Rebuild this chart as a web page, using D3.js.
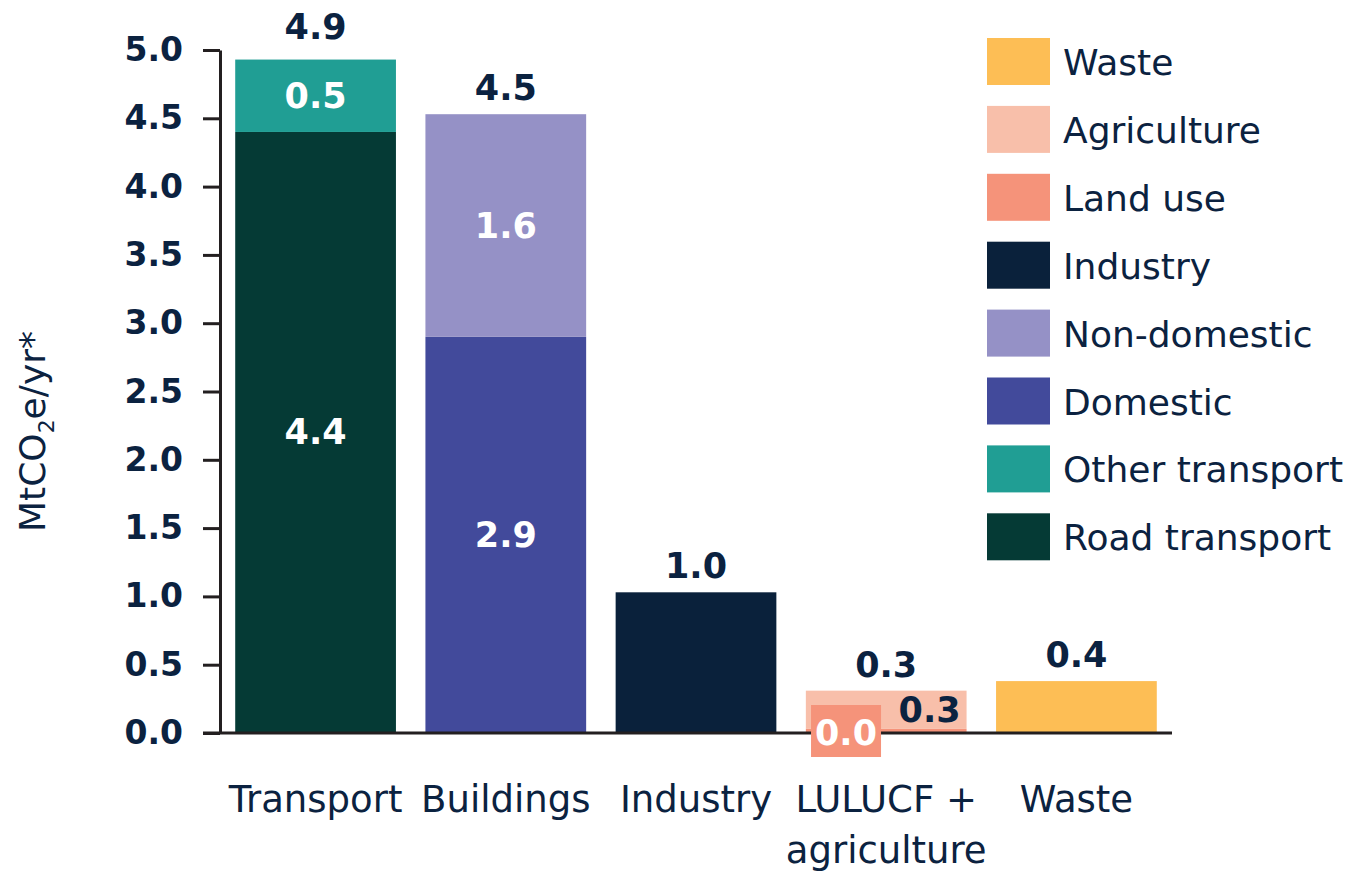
<!DOCTYPE html>
<html>
<head>
<meta charset="utf-8">
<script src="https://cdn.jsdelivr.net/npm/d3@7"></script>
<style>
  body { margin: 0; background: #fff; }
  text { font-family: "DejaVu Sans", sans-serif; fill: #0b2240; }
</style>
</head>
<body>
<div class="div_d3"></div>
<script>
// categories on the x axis
const categories = ["Transport", "Buildings", "Industry", "LULUCF + agriculture", "Waste"];
const catLines = [["Transport"], ["Buildings"], ["Industry"], ["LULUCF +", "agriculture"], ["Waste"]];

// series, bottom to top of the stack
const seriesNames = ["Road transport", "Other transport", "Domestic", "Non-domestic", "Industry", "Land use", "Agriculture", "Waste"];
const seriesColors = ["#053a35", "#209e94", "#424a9b", "#9591c6", "#0a213b", "#f5937a", "#f8bfaa", "#fdbe55"];

// values per series, one per category (MtCO2e/yr)
const roadTransport  = [4.40, 0, 0, 0, 0];
const otherTransport = [0.53, 0, 0, 0, 0];
const domestic       = [0, 2.90, 0, 0, 0];
const nonDomestic    = [0, 1.63, 0, 0, 0];
const industry       = [0, 0, 1.03, 0, 0];
const landUse        = [0, 0, 0, 0.03, 0];
const agriculture    = [0, 0, 0, 0.28, 0];
const waste          = [0, 0, 0, 0, 0.38];

const yTicks = [0, 0.5, 1, 1.5, 2, 2.5, 3, 3.5, 4, 4.5, 5];

const seriesValues = [roadTransport, otherTransport, domestic, nonDomestic, industry, landUse, agriculture, waste];

const W = 1364, H = 871;
const margin = {top: 50, right: 192, bottom: 138, left: 220};
const fmt = d3.format(".1f");

const svg = d3.select(".div_d3")
  .append("svg")
    .attr("width", W)
    .attr("height", H);

// table for d3.stack
const table = categories.map((c, i) => {
  const row = {cat: c};
  seriesNames.forEach((s, j) => row[s] = seriesValues[j][i]);
  return row;
});
const stacked = d3.stack().keys(seriesNames)(table);

const x = d3.scaleBand()
  .domain(categories)
  .range([margin.left, W - margin.right])
  .paddingInner(0.155)
  .paddingOuter(0.08);

const y = d3.scaleLinear()
  .domain([0, 5])
  .range([H - margin.bottom, margin.top]);

const color = d3.scaleOrdinal().domain(seriesNames).range(seriesColors);

// bars
stacked.forEach(layer => {
  svg.append("g")
    .selectAll("rect")
    .data(layer.filter(d => d[1] - d[0] > 0))
    .enter()
    .append("rect")
      .attr("x", d => x(d.data.cat))
      .attr("y", d => y(d[1]))
      .attr("width", x.bandwidth())
      .attr("height", d => y(d[0]) - y(d[1]))
      .attr("fill", color(layer.key));
});

// y axis
const yAxis = svg.append("g")
  .attr("transform", `translate(${margin.left},0)`)
  .call(d3.axisLeft(y).tickValues(yTicks).tickFormat(fmt).tickSize(17).tickSizeOuter(0).tickPadding(20));
yAxis.select(".domain").attr("stroke", "#231f20").attr("stroke-width", 3);
yAxis.selectAll(".tick line").attr("stroke", "#231f20").attr("stroke-width", 3);
yAxis.selectAll(".tick text")
  .attr("font-size", 33)
  .attr("font-weight", "bold")
  .attr("fill", "#0b2240")
  .style("font-family", "DejaVu Sans, sans-serif");

// baseline
svg.append("line")
  .attr("x1", margin.left - 17)
  .attr("x2", W - margin.right)
  .attr("y1", y(0))
  .attr("y2", y(0))
  .attr("stroke", "#231f20")
  .attr("stroke-width", 3);

// y axis title
const yt = svg.append("text")
  .attr("transform", `translate(45,${(y(0) + y(5)) / 2 + 40}) rotate(-90)`)
  .attr("text-anchor", "middle")
  .attr("font-size", 36);
yt.append("tspan").text("MtCO");
yt.append("tspan").attr("font-size", 22).attr("dy", 9).text("2");
yt.append("tspan").attr("dy", -9).text("e/yr*");

// category labels
categories.forEach((c, i) => {
  const t = svg.append("text")
    .attr("x", x(c) + x.bandwidth() / 2)
    .attr("y", 812)
    .attr("text-anchor", "middle")
    .attr("font-size", 37);
  catLines[i].forEach((ln, k) => {
    t.append("tspan")
      .attr("x", x(c) + x.bandwidth() / 2)
      .attr("dy", k === 0 ? 0 : 51)
      .text(ln);
  });
});

// totals above bars
const totals = table.map(row => d3.sum(seriesNames, s => row[s]));
const maxTotal = d3.max(totals);
table.forEach((row, i) => {
  const total = totals[i];
  svg.append("text")
    .attr("x", x(row.cat) + x.bandwidth() / 2)
    .attr("y", y(total) - (total === maxTotal ? 21 : 14))
    .attr("text-anchor", "middle")
    .attr("font-size", 35)
    .attr("font-weight", "600")
    .text(fmt(total));
});

// labels inside stacked segments (only where a bar has more than one part)
stacked.forEach(layer => {
  layer.forEach(d => {
    const row = d.data;
    const parts = seriesNames.filter(s => row[s] > 0).length;
    const v = d[1] - d[0];
    if (parts < 2 || v <= 0) return;
    const cx = x(row.cat) + x.bandwidth() / 2;
    if (row.cat === "LULUCF + agriculture") {
      if (layer.key === "Land use") {
        const bx = x(row.cat) + x.bandwidth() * 0.25;
        svg.append("rect")
          .attr("x", bx - 35)
          .attr("y", y(0) - 28)
          .attr("width", 70)
          .attr("height", 52)
          .attr("fill", color(layer.key));
        svg.append("text")
          .attr("x", bx)
          .attr("y", y(0) + 12)
          .attr("text-anchor", "middle")
          .attr("font-size", 35)
          .attr("font-weight", "600")
          .style("fill", "#fff")
          .text(fmt(v));
      } else {
        svg.append("text")
          .attr("x", x(row.cat) + x.bandwidth() * 0.77)
          .attr("y", y((d[0] + d[1]) / 2) + 12)
          .attr("text-anchor", "middle")
          .attr("font-size", 35)
          .attr("font-weight", "600")
          .text(fmt(v));
      }
      return;
    }
    svg.append("text")
      .attr("x", cx)
      .attr("y", y((d[0] + d[1]) / 2) + 12)
      .attr("text-anchor", "middle")
      .attr("font-size", 35)
      .attr("font-weight", "600")
      .style("fill", "#fff")
      .text(fmt(v));
  });
});

// legend, top to bottom is reversed stack order
const legendItems = seriesNames.slice().reverse();
const legend = svg.append("g").attr("transform", "translate(987,38)");
legendItems.forEach((s, i) => {
  const g = legend.append("g").attr("transform", `translate(0,${i * 67.9})`);
  g.append("rect")
    .attr("width", 63)
    .attr("height", 47)
    .attr("fill", color(s));
  g.append("text")
    .attr("x", 76)
    .attr("y", 37)
    .attr("font-size", 36)
    .text(s);
});
</script>
</body>
</html>
